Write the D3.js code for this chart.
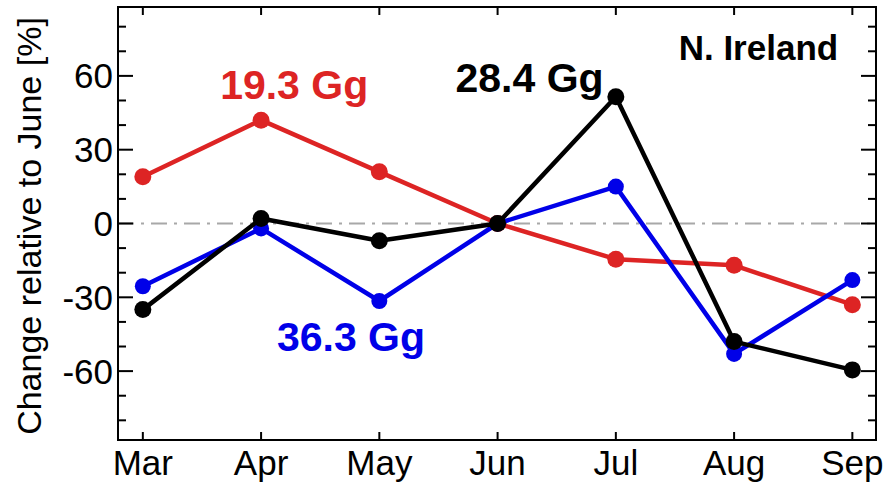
<!DOCTYPE html>
<html>
<head>
<meta charset="utf-8">
<script src="https://cdn.jsdelivr.net/npm/d3@7"></script>
<style>
  body { margin: 0; background: #fff; }
  svg text { font-family: "Liberation Sans", Arial, Helvetica, sans-serif; }
</style>
</head>
<body>
<div id="chart"></div>
<script>
// months on the x axis
const months = ["Mar", "Apr", "May", "Jun", "Jul", "Aug", "Sep"]

// change relative to June [%]
const redValues = [19, 42, 21, 0, -14.5, -17, -33]
const blueValues = [-25.5, -2, -31.5, 0, 15, -53, -23]
const blackValues = [-35, 2, -7, 0, 51.5, -48, -59.5]

const seriesNames = ["19.3 Gg", "36.3 Gg", "28.4 Gg"]
const seriesColors = ["#dd2424", "#0000e8", "#000000"]

const yMajor = [-60, -30, 0, 30, 60]
const yMinor = d3.range(-80, 81, 10)

const width = 892, height = 487

let svg = d3.select("#chart")
  .append("svg")
  .attr("width", width)
  .attr("height", height)

let x = d3.scaleLinear()
  .domain([-0.21, 6.2])
  .range([118, 876])

let y = d3.scaleLinear()
  .domain([-88, 88])
  .range([440, 7])

// zero reference line
svg.append("line")
  .attr("x1", x.range()[0]).attr("x2", x.range()[1])
  .attr("y1", y(0)).attr("y2", y(0))
  .style("stroke", "#a8a8a8")
  .style("stroke-width", 2)
  .style("stroke-dasharray", "16,7,3,7")

// ticks - left and right
let tickG = svg.append("g").style("stroke", "#000").style("stroke-width", 2)

yMinor.forEach(v => {
  let len = yMajor.includes(v) ? 15 : 8
  tickG.append("line")
    .attr("x1", x.range()[0]).attr("x2", x.range()[0] + len)
    .attr("y1", y(v)).attr("y2", y(v))
  tickG.append("line")
    .attr("x1", x.range()[1]).attr("x2", x.range()[1] - len)
    .attr("y1", y(v)).attr("y2", y(v))
})

// ticks - top and bottom
months.forEach((m, i) => {
  tickG.append("line")
    .attr("x1", x(i)).attr("x2", x(i))
    .attr("y1", y.range()[0]).attr("y2", y.range()[0] - 8)
  tickG.append("line")
    .attr("x1", x(i)).attr("x2", x(i))
    .attr("y1", y.range()[1]).attr("y2", y.range()[1] + 8)
})

svg.selectAll(".ylab")
  .data(yMajor)
  .enter()
  .append("text")
  .attr("class", "ylab")
  .attr("x", x.range()[0] - 5)
  .attr("y", d => y(d))
  .attr("dy", "0.36em")
  .attr("text-anchor", "end")
  .style("font-size", "35px")
  .text(d => d)

svg.selectAll(".xlab")
  .data(months)
  .enter()
  .append("text")
  .attr("class", "xlab")
  .attr("x", (d, i) => x(i))
  .attr("y", 475)
  .attr("text-anchor", "middle")
  .style("font-size", "35px")
  .text(d => d)

svg.append("text")
  .attr("transform", "translate(41," + 226 + ") rotate(-90)")
  .attr("text-anchor", "middle")
  .style("font-size", "34px")
  .text("Change relative to June [%]")

// the series
let line = d3.line()
  .x((d, i) => x(i))
  .y(d => y(d))

let allSeries = [redValues, blueValues, blackValues]
let radii = [8.5, 8, 8.5]

allSeries.forEach((vals, k) => {
  let g = svg.append("g")
  g.append("path")
    .datum(vals)
    .attr("d", line)
    .style("fill", "none")
    .style("stroke", seriesColors[k])
    .style("stroke-width", 4.5)
    .style("stroke-linejoin", "round")
  g.selectAll("circle")
    .data(vals)
    .enter()
    .append("circle")
    .attr("cx", (d, i) => x(i))
    .attr("cy", d => y(d))
    .attr("r", radii[k])
    .style("fill", seriesColors[k])
})

// series labels
let labels = [
  { text: seriesNames[0], color: seriesColors[0], at: [1.28, 50.7] },
  { text: seriesNames[2], color: seriesColors[2], at: [3.27, 53.6] },
  { text: seriesNames[1], color: seriesColors[1], at: [1.76, -51.8] }
]

svg.selectAll(".slab")
  .data(labels)
  .enter()
  .append("text")
  .attr("class", "slab")
  .attr("x", d => x(d.at[0]))
  .attr("y", d => y(d.at[1]))
  .attr("text-anchor", "middle")
  .style("font-size", "41px")
  .style("font-weight", "bold")
  .style("fill", d => d.color)
  .text(d => d.text)

svg.append("text")
  .attr("x", x(5.88))
  .attr("y", y(66.6))
  .attr("text-anchor", "end")
  .style("font-size", "35px")
  .style("font-weight", "bold")
  .text("N. Ireland")

// frame
svg.append("rect")
  .attr("x", x.range()[0])
  .attr("y", y.range()[1])
  .attr("width", x.range()[1] - x.range()[0])
  .attr("height", y.range()[0] - y.range()[1])
  .style("fill", "none")
  .style("stroke", "#000")
  .style("stroke-width", 2)
</script>
</body>
</html>
